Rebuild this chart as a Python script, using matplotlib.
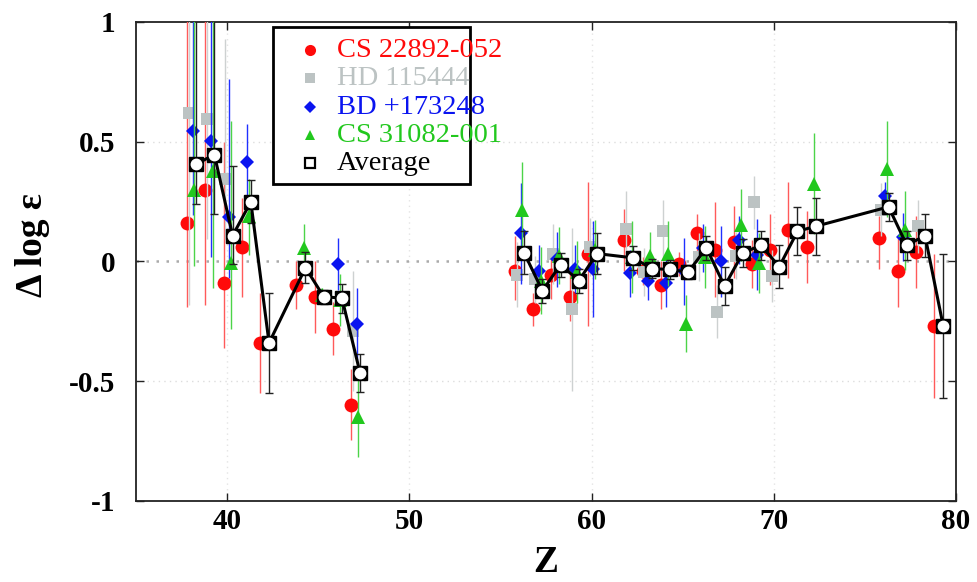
import numpy as np
import matplotlib
matplotlib.use("Agg")
import matplotlib.pyplot as plt
from matplotlib.patches import Rectangle

plt.rcParams["axes.unicode_minus"] = False
plt.rcParams["font.family"] = ["Liberation Serif", "DejaVu Serif"]

nan = np.nan

# Atomic number of each element
Z = [38, 39, 40, 41, 42, 44, 45, 46, 47,
     56, 57, 58, 59, 60, 62, 63, 64, 65, 66, 67, 68, 69, 70, 71, 72,
     76, 77, 78, 79]

# CS 22892-052
cs22892_val = [0.16, 0.30, -0.09, 0.06, -0.34, -0.10, -0.15, -0.28, -0.60,
               -0.04, -0.20, -0.055, -0.15, 0.03, 0.09, -0.04, -0.10, -0.01, 0.12, 0.05, 0.08, -0.01, 0.05, 0.13, 0.06,
               0.10, -0.04, 0.04, -0.27]
cs22892_lo = [0.35, 0.48, 0.27, 0.21, 0.21, 0.10, 0.15, 0.11, 0.146,
              0.12, 0.07, 0.10, 0.10, 0.30, 0.13, 0.06, 0.10, 0.05, 0.08, 0.20, 0.15, 0.10, 0.15, 0.20, 0.15,
              0.13, 0.15, 0.15, 0.30]
cs22892_hi = [1.0, 1.0, 0.59, 0.205, 0.21, 0.10, 0.15, 0.11, 0.15,
              0.145, 0.07, 0.10, 0.10, 0.30, 0.13, 0.06, 0.10, 0.05, 0.08, 0.20, 0.15, 0.10, 0.15, 0.20, 0.15,
              0.09, 0.15, 0.15, 0.30]

# HD 115444
hd115444_val = [0.62, 0.595, 0.345, nan, nan, nan, nan, nan, -0.29,
                -0.055, -0.075, 0.03, -0.20, 0.06, 0.136, -0.045, 0.126, nan, 0.02, -0.21, 0.025, 0.247, -0.06, nan, nan,
                0.217, nan, 0.147, nan]
hd115444_lo = [0.80, 0.50, 0.25, nan, nan, nan, nan, nan, 0.25,
               0.135, 0.10, 0.125, 0.34, 0.12, 0.16, 0.10, 0.13, nan, 0.10, 0.11, 0.10, 0.11, 0.11, nan, nan,
               0.11, nan, 0.11, nan]
hd115444_hi = [1.0, 1.0, 0.585, nan, nan, nan, nan, nan, 0.25,
               0.135, 0.10, 0.125, 0.34, 0.12, 0.16, 0.10, 0.13, nan, 0.10, 0.11, 0.10, 0.11, 0.11, nan, nan,
               0.11, nan, 0.11, nan]

# BD +17 3248
bd173248_val = [0.543, 0.505, 0.186, 0.415, nan, nan, nan, -0.01, -0.26,
                0.117, -0.04, 0.01, -0.03, -0.03, -0.05, -0.08, -0.09, -0.04, 0.057, 0.0, 0.089, 0.029, nan, nan, nan,
                0.275, 0.101, nan, nan]
bd173248_lo = [0.35, 0.485, 0.256, 0.16, nan, nan, nan, 0.11, 0.15,
               0.21, 0.107, 0.115, 0.10, 0.20, 0.10, 0.08, 0.10, 0.14, 0.10, 0.15, 0.10, 0.15, nan, nan, nan,
               0.055, 0.10, nan, nan]
bd173248_hi = [1.0, 1.0, 0.574, 0.16, nan, nan, nan, 0.11, 0.15,
               0.21, 0.107, 0.115, 0.10, 0.20, 0.10, 0.08, 0.10, 0.14, 0.10, 0.15, 0.10, 0.15, nan, nan, nan,
               0.055, 0.10, nan, nan]

# CS 31082-001
cs31082_val = [0.30, 0.376, -0.005, 0.19, nan, 0.057, -0.14, -0.16, -0.65,
               0.217, -0.08, 0.025, -0.043, 0.05, 0.02, 0.025, 0.033, -0.26, 0.02, nan, 0.154, -0.006, nan, nan, 0.325,
               0.386, 0.13, nan, nan]
cs31082_lo = [0.32, 0.486, 0.275, 0.164, nan, 0.10, 0.03, 0.108, 0.165,
              0.20, 0.14, 0.12, 0.13, 0.125, 0.15, 0.10, 0.135, 0.12, 0.13, nan, 0.15, 0.125, nan, nan, 0.21,
              0.20, 0.165, nan, nan]
cs31082_hi = [1.0, 1.0, 0.59, 0.156, nan, 0.10, 0.03, 0.108, 0.165,
              0.20, 0.14, 0.12, 0.13, 0.125, 0.15, 0.10, 0.135, 0.12, 0.13, nan, 0.15, 0.125, nan, nan, 0.21,
              0.20, 0.165, nan, nan]

# Average of the four stars
avg_val = [0.407, 0.446, 0.108, 0.249, -0.34, -0.026, -0.147, -0.153, -0.467,
           0.036, -0.122, -0.013, -0.08, 0.033, 0.015, -0.03, -0.033, -0.045, 0.057, -0.103, 0.036, 0.068, -0.022, 0.126, 0.147,
           0.228, 0.068, 0.108, -0.27]
avg_lo = [0.167, 0.246, 0.12, 0.09, 0.21, 0.065, 0.03, 0.06, 0.08,
          0.09, 0.05, 0.05, 0.05, 0.085, 0.05, 0.04, 0.04, 0.03, 0.05, 0.08, 0.06, 0.06, 0.09, 0.10, 0.118,
          0.06, 0.06, 0.09, 0.30]
avg_hi = [1.0, 1.0, 0.29, 0.09, 0.21, 0.065, 0.03, 0.06, 0.08,
          0.09, 0.05, 0.05, 0.05, 0.085, 0.05, 0.04, 0.04, 0.03, 0.05, 0.08, 0.06, 0.06, 0.09, 0.10, 0.118,
          0.06, 0.06, 0.09, 0.30]

labels = ["CS 22892-052", "HD 115444", "BD +173248", "CS 31082-001", "Average"]

series = [
    # values, lower err, upper err, x offset, marker, size, face, bar colour
    (cs22892_val, cs22892_lo, cs22892_hi, -0.2, "o", 10.0, "#ff0a0a", "#ff5a5a"),
    (hd115444_val, hd115444_lo, hd115444_hi, -0.1, "s", 9.0, "#bcc3c3", "#cdd1d1"),
    (bd173248_val, bd173248_lo, bd173248_hi, 0.1, "D", 7.5, "#0a14f0", "#2030ff"),
    (cs31082_val, cs31082_lo, cs31082_hi, 0.2, "^", 9.5, "#22c81e", "#4cd448"),
]

fig = plt.figure(figsize=(9.78, 5.82), dpi=100)
ax = fig.add_axes([0.1391, 0.1392, 0.8384, 0.8230])

Zarr = np.array(Z, dtype=float)

for k, (val, lo, hi, dx, mk, ms, fc, ec) in enumerate(series):
    v = np.array(val, dtype=float)
    m = ~np.isnan(v)
    ax.errorbar(Zarr[m] + dx, v[m],
                yerr=[np.array(lo, dtype=float)[m], np.array(hi, dtype=float)[m]],
                fmt=mk, ms=ms, mfc=fc, mec=fc, mew=0, ecolor=ec,
                elinewidth=1.0, capsize=3.2, capthick=1.0, zorder=3 + k)

# Average: error bars, connecting line (broken across the gap), markers
av = np.array(avg_val, dtype=float)
xa = Zarr + 0.3
ax.errorbar(xa, av, yerr=[avg_lo, avg_hi], fmt="none", ecolor="#222222",
            elinewidth=1.0, capsize=3.2, capthick=1.0, zorder=8)
breaks = np.where(np.diff(Zarr) > 5)[0] + 1
for seg in np.split(np.arange(len(Zarr)), breaks):
    ax.plot(xa[seg], av[seg], color="black", lw=2.2, zorder=9)
ax.plot(xa, av, ls="none", marker="s", ms=10.5, mfc="black", mec="black", zorder=10)
ax.plot(xa, av, ls="none", marker="o", ms=7.5, mfc="white", mec="white", zorder=11)

ax.set_xlim(35, 80)
ax.set_ylim(-1, 1)
ax.set_xticks([40, 50, 60, 70, 80])
ax.set_yticks([-1, -0.5, 0, 0.5, 1])
ax.set_yticklabels(["-1", "-0.5", "0", "0.5", "1"])

# Light dotted reference grid, darker dotted zero line
for yv in (0.5, -0.5):
    ax.axhline(yv, color="#dddddd", lw=1.0, ls=(0, (1, 3)), zorder=1)
for xv in (40, 50, 60, 70):
    ax.axvline(xv, color="#e4e4e4", lw=1.0, ls=(0, (1, 3)), zorder=1)
ax.axhline(0, color="#aaaaaa", lw=1.8, ls=(0, (1, 3)), zorder=1)

for sp in ax.spines.values():
    sp.set_linewidth(1.3)
    sp.set_color("#222222")
ax.tick_params(direction="in", length=6, width=1.0, top=True, right=True,
               labelsize=21, colors="#222222", labelcolor="black")
ax.tick_params(axis="y", pad=15)
ax.tick_params(axis="x", pad=5)
for t in ax.get_xticklabels() + ax.get_yticklabels():
    t.set_fontweight("bold")

ax.set_xlabel("Z", fontsize=27, fontweight="bold", labelpad=7)
ax.set_ylabel("Δ log ε", fontsize=27, fontweight="bold")
ax.yaxis.set_label_coords(-0.105, 0.534)

# Legend box drawn by hand so the labels may run past the frame
box = Rectangle((0.167, 0.662), 0.240, 0.328, transform=ax.transAxes,
                facecolor="white", edgecolor="black", lw=2.0, zorder=20)
ax.add_patch(box)
row_y = [0.9415, 0.883, 0.8225, 0.764, 0.7056]
leg_colors = [s[6] for s in series] + ["black"]
for i, (lab, yy) in enumerate(zip(labels, row_y)):
    if i < len(series):
        _, _, _, _, mk, ms, fc, _ = series[i]
        ax.plot([0.212], [yy], transform=ax.transAxes, ls="none", marker=mk,
                ms=ms * 0.8, mfc=fc, mec=fc, mew=0, zorder=21, clip_on=False)
    else:
        ax.plot([0.212], [yy], transform=ax.transAxes, ls="none", marker="s",
                ms=7, mfc="white", mec="black", mew=1.6, zorder=21, clip_on=False)
    ax.text(0.245, yy, lab, transform=ax.transAxes, fontsize=20.5,
            color=leg_colors[i], va="center", ha="left", zorder=22)

fig.savefig("out.png", dpi=100)
